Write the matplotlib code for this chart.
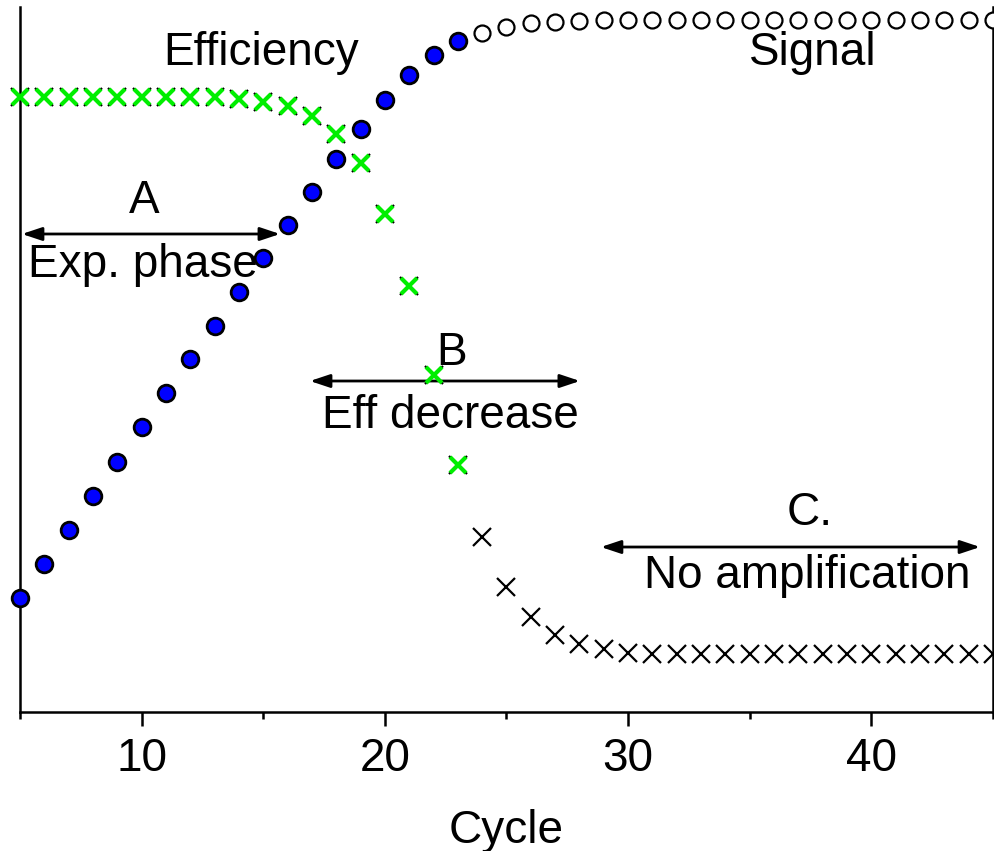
import matplotlib.pyplot as plt

plt.rcParams['font.family'] = ['Liberation Sans', 'DejaVu Sans']

# amplification curve (arbitrary signal units), cycles 5..45
cycles = list(range(5, 46))
signal = [114, 148, 182, 216, 250, 285, 319, 353, 386, 420, 454, 487, 520,
          553, 583, 612, 637, 657, 671,
          679, 685, 689, 690, 691, 692, 692, 692, 692, 692, 692, 692, 692,
          692, 692, 692, 692, 692, 692, 692, 692, 692]

# efficiency per cycle (same arbitrary vertical units)
efficiency = [615, 615, 615, 615, 615, 615, 615, 615, 615, 613, 610, 606,
              596, 578, 549, 498, 426, 337, 247,
              175, 125, 95, 77, 68, 63, 59, 58, 58, 58, 58, 58, 58, 58, 58,
              58, 58, 58, 58, 58, 58, 58]

exp_end = 19  # index of last cycle (23) still amplifying

fig = plt.figure(figsize=(9.94, 8.51), dpi=100)
ax = fig.add_axes([0.0201, 0.1633, 0.9789, 0.8285])

# efficiency: black crosses everywhere, green on top while amplifying
ax.plot(cycles, efficiency, 'x', color='black', ms=13, mew=1.6,
        linestyle='none', clip_on=False, zorder=3)
ax.plot(cycles[:exp_end], efficiency[:exp_end], 'x', color='#00ee00', ms=12,
        mew=3, linestyle='none', clip_on=False, zorder=4)

# signal: filled blue while amplifying, open circles at plateau
ax.plot(cycles[:exp_end], signal[:exp_end], 'o', mfc='blue', mec='black',
        ms=12, mew=2, linestyle='none', clip_on=False, zorder=5)
ax.plot(cycles[exp_end:], signal[exp_end:], 'o', mfc='white', mec='black',
        ms=11.5, mew=1.6, linestyle='none', clip_on=False, zorder=5)

ax.set_xlim(5, 45)
ax.set_ylim(0, 705)
ax.set_xticks([10, 20, 30, 40])
ax.set_xticks([5, 15, 25, 35, 45], minor=True)
ax.set_yticks([])
ax.tick_params(axis='x', which='major', length=10, width=1.8, labelsize=33,
               pad=8)
ax.tick_params(axis='x', which='minor', length=5, width=1.8)
ax.spines['top'].set_visible(False)
for s in ['left', 'right', 'bottom']:
    ax.spines[s].set_linewidth(1.8)
ax.set_xlabel('Cycle', fontsize=33, labelpad=20)

fs = 33
ax.text(14.91, 647, 'Efficiency', fontsize=fs, ha='center', va='baseline')
ax.text(37.6, 647, 'Signal', fontsize=fs, ha='center', va='baseline')

# phase arrows: (start, end, y, label above, x, y, label below, x, y)
phases = [
    (5.08, 15.69, 478, 'A', 10.1, 499, 'Exp. phase', 10.06, 435),
    (16.92, 28.02, 331, 'B', 22.76, 347, 'Eff decrease', 22.68, 284),
    (28.88, 44.47, 165, 'C.', 37.48, 187, 'No amplification', 37.35, 124),
]
for x0, x1, y, top, xt, yt, bottom, xb, yb in phases:
    ax.annotate('', xy=(x1, y), xytext=(x0, y),
                arrowprops=dict(arrowstyle='<|-|>,head_length=0.6,head_width=0.2',
                                color='black', lw=2, shrinkA=0, shrinkB=0,
                                mutation_scale=20))
    ax.text(xt, yt, top, fontsize=fs, ha='center', va='baseline')
    ax.text(xb, yb, bottom, fontsize=fs, ha='center', va='baseline')

fig.savefig('out.png', dpi=100)
